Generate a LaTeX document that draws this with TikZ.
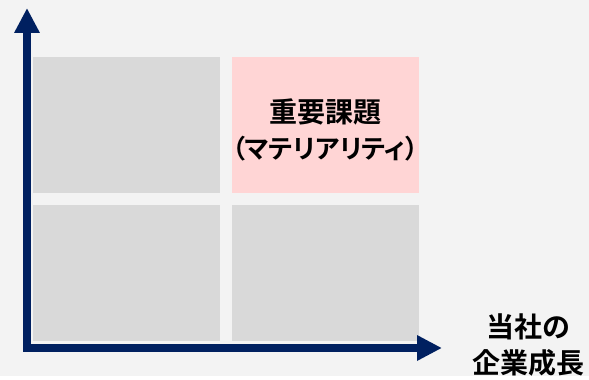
\documentclass[tikz,border=0pt]{standalone}
\usepackage{xcolor}
\usepackage{fontspec}
\newfontfamily\jpbold{Noto Sans CJK JP Bold}
\newfontfamily\jpboldp{Noto Sans CJK JP Bold}[RawFeature=+palt]
\usepackage{tikz}
\usetikzlibrary{
  arrows.meta,
  positioning}
\definecolor{axisblue}{HTML}{002060}
\definecolor{cellgray}{HTML}{D9D9D9}
\definecolor{cellpink}{HTML}{FFD5D5}
\definecolor{bggray}{HTML}{F3F3F3}
\tikzset{
  cell/.style={fill=cellgray, minimum width=187pt, minimum height=136pt,
    inner sep=0pt, anchor=north west},
  axis/.style={draw=axisblue, line width=8pt,
    arrows={Triangle[width=24pt,length=25pt]-Triangle[width=24pt,length=25pt]}},
  jptext/.style={font={\jpbold\fontsize{28}{36}\selectfont}, align=center}
}

\begin{document}
\begin{tikzpicture}[x=1pt,y=-1pt]
            \fill[bggray] (0,0) rectangle (589,376);
            \node[cell] (tl) at (33,57) {};
            \node[cell, fill=cellpink, right=11pt of tl] (tr) {};
            \node[cell, below=11pt of tl] (bl) {};
            \node[cell, right=11pt of bl] (br) {};
            \node[jptext] (issue) at ([yshift=-5pt]tr.center)
              {重要課題\\{\jpboldp\fontsize{26}{36}\selectfont （マテリアリティ）}};
            \coordinate (origin) at (27,348);
            \coordinate (ytip) at (27,8);
            \coordinate (xtip) at (442,348);
            \draw[axis] (ytip) -- (origin) -- (xtip);
            \node[jptext] (growth) at (528,345) {当社の\\企業成長};
        \end{tikzpicture}
\end{document}
